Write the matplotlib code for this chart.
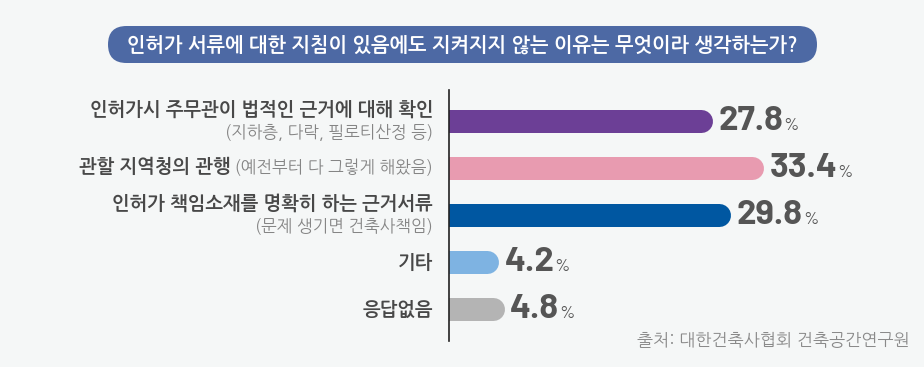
import matplotlib
matplotlib.use('Agg')
import matplotlib.pyplot as plt
from matplotlib.patches import FancyBboxPatch
from matplotlib.transforms import IdentityTransform

plt.rcParams['font.family'] = ['NanumGothic', 'Noto Sans CJK KR', 'DejaVu Sans']
NUM_FONT = ['Barlow', 'Roboto Condensed', 'DejaVu Sans']

title = '인허가 서류에 대한 지침이 있음에도 지켜지지 않는 이유는 무엇이라 생각하는가?'
labels = ['인허가시 주무관이 법적인 근거에 대해 확인',
          '관할 지역청의 관행',
          '인허가 책임소재를 명확히 하는 근거서류',
          '기타',
          '응답없음']
sublabels = ['(지하층, 다락, 필로티산정 등)', '', '(문제 생기면 건축사책임)', '', '']
inline_notes = ['', '(예전부터 다 그렇게 해왔음)', '', '', '']
values = [27.8, 33.4, 29.8, 4.2, 4.8]
colors = ['#6c3f96', '#e89bb0', '#0057a1', '#7eb3e2', '#b4b4b4']
source = '출처: 대한건축사협회 건축공간연구원'

BG = '#f5f7f7'
W, H = 924, 367
fig = plt.figure(figsize=(W / 100, H / 100), dpi=100, facecolor=BG)

# title pill, drawn in pixel space so the ends stay round
pill = FancyBboxPatch((108, H - 63), 817 - 108, 37,
                      boxstyle='round,pad=0,rounding_size=18.5',
                      transform=IdentityTransform(), facecolor='#4d69a4', edgecolor='none')
fig.patches.append(pill)
fig.text(462 / W, 1 - 45 / H, title, ha='center', va='center', color='white',
         fontsize=14.1, fontweight='bold')

# bar axes: x from 449px, bar centers every 47px starting at 121px
ax_left, ax_top, ax_bot = 449, 90, 341
ax = fig.add_axes([ax_left / W, 1 - ax_bot / H, (W - ax_left) / W, (ax_bot - ax_top) / H])
ax.set_facecolor('none')
px_per_unit = 9.07
ax.set_xlim(0, (W - ax_left) / px_per_unit)
ax.set_ylim(4 + (ax_bot - 309) / 47, -(121 - ax_top) / 47)
for s in ['top', 'right', 'bottom']:
    ax.spines[s].set_visible(False)
ax.spines['left'].set_color('#222222')
ax.spines['left'].set_linewidth(1.2)
ax.set_xticks([])
ax.set_yticks([])

bar_px = 23
for i, (v, c) in enumerate(zip(values, colors)):
    ax.plot([0, v], [i, i], color=c, linewidth=bar_px * 0.72, solid_capstyle='round')

fig.canvas.draw()
renderer = fig.canvas.get_renderer()

for i, v in enumerate(values):
    num = ax.annotate(f'{v:.1f}', xy=(v, i), xytext=(bar_px / 2 + 6, 0), textcoords='offset pixels',
                      ha='left', va='center', fontsize=25, fontweight='bold',
                      family=NUM_FONT, color='#555555')
    ax.annotate('%', xy=(1, 0), xycoords=num, xytext=(0, 3), textcoords='offset pixels',
                ha='left', va='bottom', fontsize=13, family=NUM_FONT, color='#555555')

label_off = -16
main_kw = dict(fontsize=13.5, fontweight='bold', color='#484848', annotation_clip=False)
sub_kw = dict(fontsize=12, color='#858585', annotation_clip=False)
for i, lab in enumerate(labels):
    if sublabels[i]:
        ax.annotate(lab, xy=(0, i), xytext=(label_off, 12), textcoords='offset pixels',
                    ha='right', va='center', **main_kw)
        ax.annotate(sublabels[i], xy=(0, i), xytext=(label_off, -11), textcoords='offset pixels',
                    ha='right', va='center', **sub_kw)
    elif inline_notes[i]:
        note = ax.annotate(' ' + inline_notes[i], xy=(0, i), xytext=(label_off, -5),
                           textcoords='offset pixels', ha='right', va='baseline', **sub_kw)
        fig.canvas.draw()
        w = note.get_window_extent(renderer).width
        ax.annotate(lab, xy=(0, i), xytext=(label_off - w, -5), textcoords='offset pixels',
                    ha='right', va='baseline', **main_kw)
    else:
        ax.annotate(lab, xy=(0, i), xytext=(label_off, 0), textcoords='offset pixels',
                    ha='right', va='center', **main_kw)

fig.text(910 / W, 1 - 341 / H, source, ha='right', va='center', fontsize=12.3, color='#8a8a8a')

fig.savefig('out.png', dpi=100, facecolor=BG)
